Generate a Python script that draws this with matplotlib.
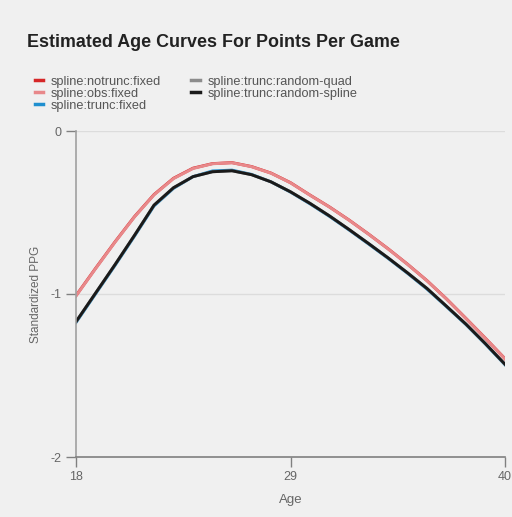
import matplotlib
matplotlib.use("Agg")
import matplotlib.pyplot as plt
import numpy as np

ages = list(range(18, 41))
notrunc_fixed = [-1.01, -0.843, -0.680, -0.525, -0.390, -0.290, -0.228, -0.200, -0.194, -0.218, -0.258,
                 -0.317, -0.393, -0.466, -0.546, -0.632, -0.722, -0.817, -0.918, -1.030, -1.150, -1.272, -1.397]
obs_fixed = [-1.012, -0.845, -0.682, -0.527, -0.392, -0.292, -0.230, -0.201, -0.195, -0.219, -0.259,
             -0.318, -0.394, -0.467, -0.547, -0.633, -0.723, -0.818, -0.919, -1.031, -1.151, -1.273, -1.398]
trunc_fixed = [-1.175, -1.000, -0.825, -0.645, -0.460, -0.352, -0.280, -0.245, -0.240, -0.266, -0.312,
               -0.375, -0.447, -0.524, -0.607, -0.693, -0.781, -0.873, -0.970, -1.078, -1.188, -1.308, -1.434]
trunc_random_quad = [-1.17, -0.995, -0.82, -0.64, -0.455, -0.348, -0.280, -0.250, -0.244, -0.268, -0.312,
                     -0.373, -0.444, -0.521, -0.604, -0.690, -0.778, -0.870, -0.966, -1.075, -1.185, -1.305, -1.431]
trunc_random_spline = [-1.17, -0.995, -0.82, -0.64, -0.455, -0.348, -0.280, -0.250, -0.244, -0.268, -0.312,
                       -0.373, -0.444, -0.521, -0.604, -0.690, -0.778, -0.870, -0.966, -1.075, -1.185, -1.305, -1.431]

series = [
    ("spline:notrunc:fixed", notrunc_fixed, "#d62728"),
    ("spline:obs:fixed", obs_fixed, "#e8888a"),
    ("spline:trunc:fixed", trunc_fixed, "#1f8fcf"),
    ("spline:trunc:random-quad", trunc_random_quad, "#8c8c8c"),
    ("spline:trunc:random-spline", trunc_random_spline, "#1a1a1a"),
]

plt.rcParams['font.family'] = ['Liberation Sans', 'DejaVu Sans']
bg = "#f0f0f0"
fig = plt.figure(figsize=(5.12, 5.17), dpi=100, facecolor=bg)
W, H = 512, 517
ax = fig.add_axes([76 / W, 1 - 457 / H, (505 - 76) / W, (457 - 131) / H], facecolor=bg)

handles = []
for name, vals, col in series:
    h, = ax.plot(ages, vals, color=col, lw=2.1, label=name)
    handles.append(h)

ax.set_xlim(18, 40)
ax.set_ylim(-2, 0)
ax.set_xticks([18, 29, 40])
ax.set_yticks([0, -1, -2])
ax.set_yticklabels(["0", "-1", "-2"])
for s in ["top", "right"]:
    ax.spines[s].set_visible(False)
ax.spines["left"].set_color("#a0a0a0")
ax.spines["left"].set_linewidth(1.2)
ax.spines["bottom"].set_color("#808080")
ax.spines["bottom"].set_linewidth(1.2)
ax.spines["left"].set_bounds(-2, 0)
ax.tick_params(axis="both", colors="#808080", labelcolor="#666666", labelsize=9, length=7, width=1.0)
ax.tick_params(axis="x", pad=3)
ax.grid(axis="y", color="#dcdcdc", lw=1.0)
ax.set_axisbelow(True)
ax.set_xlabel("Age", color="#666666", fontsize=9.5, labelpad=8)
ax.set_ylabel("Standardized PPG", color="#666666", fontsize=8.5, labelpad=6)

fig.text(27 / W, 1 - 47 / H, "Estimated Age Curves For Points Per Game", fontsize=12.9,
         fontweight="bold", color="#222222", va="baseline", ha="left")

leg = fig.legend(handles=handles, labels=[s[0] for s in series],
                 loc="upper left", bbox_to_anchor=(23 / W, 1 - 64 / H), ncol=2,
                 frameon=False, fontsize=9.2, handlelength=0.7, handletextpad=0.6,
                 labelspacing=0.0, columnspacing=2.3, labelcolor="#555555")
for lh in leg.get_lines():
    lh.set_linewidth(2.5)

fig.savefig("out.png", dpi=100, facecolor=bg)
